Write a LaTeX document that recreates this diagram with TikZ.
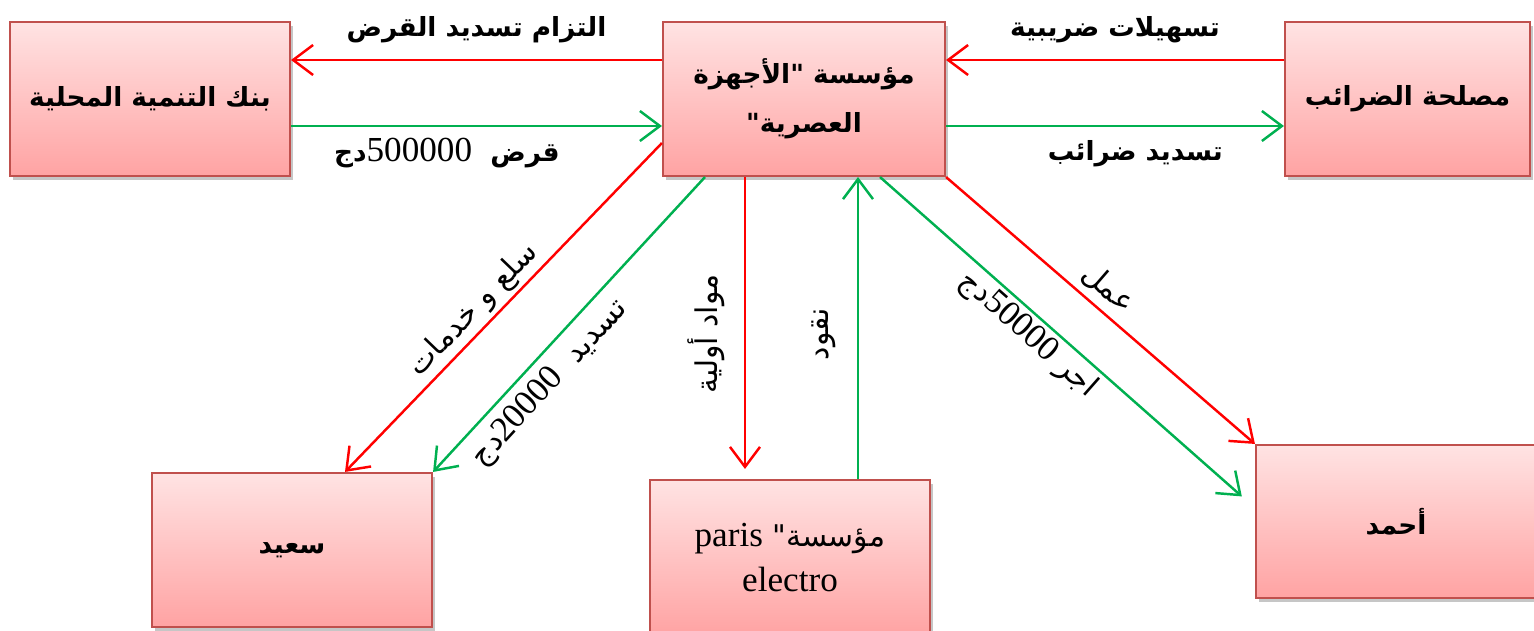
\documentclass[tikz,border=0pt]{standalone}
\usepackage{fontspec}
\setmainfont{Liberation Serif}
\newfontfamily\arabicfont[Script=Arabic]{DejaVu Sans}
\TeXXeTstate=1
\usetikzlibrary{arrows.meta,shadows}

\definecolor{boxline}{HTML}{C0504D}
\definecolor{boxtop}{HTML}{FFE3E3}
\definecolor{boxbottom}{HTML}{FFA3A3}
\definecolor{flowred}{HTML}{FF0000}
\definecolor{flowgreen}{HTML}{00B050}

% arabic text, right to left
\newcommand{\artext}[1]{{\arabicfont\fontsize{17}{22}\selectfont\beginR #1\endR}}
\newcommand{\artextb}[1]{{\arabicfont\bfseries\fontsize{15}{23}\selectfont\beginR #1\endR}}
\newcommand{\num}[1]{\beginL{\rmfamily\mdseries\fontsize{20}{24}\selectfont #1}\endL}

\tikzset{
  block/.style={rectangle, draw=boxline, line width=1.2pt,
    top color=boxtop, bottom color=boxbottom,
    minimum width=5.6cm, minimum height=3.08cm, align=center,
    drop shadow={shadow xshift=0.6mm, shadow yshift=-0.7mm, opacity=0.45},
    font=\fontsize{20}{26}\selectfont},
  redflow/.style={draw=flowred, line width=1.4pt,
    -{Straight Barb[length=4mm,width=6mm]}},
  greenflow/.style={draw=flowgreen, line width=1.4pt,
    -{Straight Barb[length=4mm,width=6mm]}},
  lbl/.style={font=\fontsize{20}{24}\selectfont, inner sep=2pt}
}

\begin{document}
\begin{tikzpicture}
  \useasboundingbox (0,0) rectangle (30.68,12.6);

  % boxes
  \node[block] (bank) at (3.0,10.62) {\artextb{بنك التنمية المحلية}};
  \node[block, minimum width=5.64cm] (firm) at (16.08,10.62)
    {\artextb{مؤسسة "الأجهزة}\\[2pt]\artextb{العصرية"}};
  \node[block, minimum width=4.9cm] (tax) at (28.15,10.62) {\artextb{مصلحة الضرائب}};
  \node[block] (said) at (5.84,1.6) {\artextb{سعيد}};
  \node[block, minimum height=3.1cm] (paris) at (15.8,1.45)
    {\artext{مؤسسة" \num{paris}}\\electro};
  \node[block, minimum height=3.06cm] (ahmed) at (27.92,2.17) {\artextb{أحمد}};

  % bank
  \draw[redflow] ([yshift=0.78cm]firm.west) -- node[lbl, above=0.25cm] {\artextb{التزام تسديد القرض}} ([yshift=0.78cm]bank.east);
  \draw[greenflow] ([yshift=-0.54cm]bank.east) -- node[lbl, pos=0.42, below=0.15cm] {\artextb{قرض \ \num{500000}دج}} ([yshift=-0.54cm]firm.west);

  % tax
  \draw[redflow] ([yshift=0.78cm]tax.west) -- node[lbl, above=0.25cm] {\artextb{تسهيلات ضريبية}} ([yshift=0.78cm]firm.east);
  \draw[greenflow] ([yshift=-0.54cm]firm.east) -- node[lbl, pos=0.56, below=0.2cm] {\artextb{تسديد ضرائب}} ([yshift=-0.54cm]tax.west);

  % said
  \draw[redflow] ([yshift=-0.88cm]firm.west) -- node[lbl, sloped, pos=0.55, above] {\artext{سلع و خدمات}} ([xshift=1.06cm]said.north);
  \draw[greenflow] ([xshift=-1.98cm]firm.south) -- node[lbl, sloped, pos=0.64, below=3pt] {\artext{تسديد \ \num{20000}دج}} (said.north east);

  % paris
  \draw[redflow, shorten >=0.2cm] ([xshift=-1.18cm]firm.south) -- node[lbl, pos=0.52, rotate=90, anchor=south, yshift=0.3cm] {\artext{مواد أولية}} ([xshift=-0.9cm]paris.north);
  \draw[greenflow] ([xshift=1.36cm]paris.north) -- node[lbl, pos=0.48, rotate=90, anchor=south, yshift=0.35cm] {\artext{نقود}} ([xshift=1.08cm]firm.south);

  % ahmed
  \draw[greenflow, shorten >=0.35cm] ([xshift=1.52cm]firm.south) -- node[lbl, sloped, pos=0.43, below=0pt] {\artext{اجر \num{50000}دج}} ([yshift=0.27cm]ahmed.west);
  \draw[redflow] (firm.south east) -- node[lbl, sloped, pos=0.48, above=2pt] {\artext{عمل}} (ahmed.north west);
\end{tikzpicture}
\end{document}
